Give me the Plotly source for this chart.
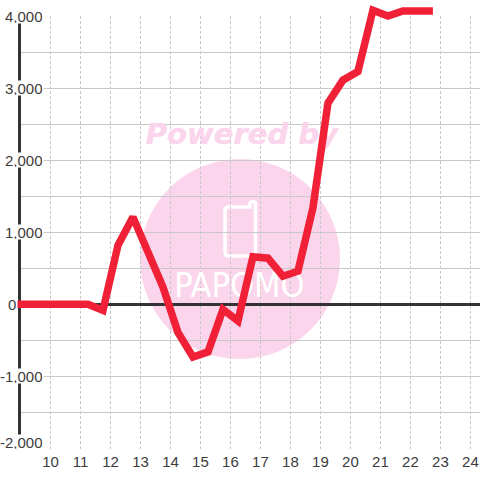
import plotly.graph_objects as go

hours = [8.9, 9.25, 9.75, 10.25, 10.75, 11.25, 11.75, 12.25, 12.75, 13.25, 13.75, 14.25, 14.75, 15.25, 15.75,
         16.25, 16.75, 17.25, 17.75, 18.25, 18.75, 19.25, 19.75, 20.25, 20.75, 21.25, 21.75, 22.25, 22.75]
values = [0, 0, 0, 0, 0, 0, -85, 820, 1210, 740, 240, -390, -730, -660, -70,
          -230, 660, 640, 390, 460, 1340, 2790, 3110, 3230, 4080, 4000, 4070, 4070, 4070]
y_ticks = [4000, 3000, 2000, 1000, 0, -1000, -2000]
y_labels = ["4,000", "3,000", "2,000", "1,000", "0", "-1,000", "-2,000"]
x_ticks = list(range(10, 25))
TEXT = "#3c3c3c"; GRID = "#c8c8c8"; AXIS = "#333333"; RED = "#f02037"; PINK = "#fbd5ec"
W = 480.0
L, R, T, B = 20.5, 480, 16, 448.5
X0, X1, Y0, Y1 = 9, 24.32, -2000, 4000
FONT = "Liberation Sans"
px = lambda v: v / W
py = lambda v: 1 - v / W
sx = (R - L) / (X1 - X0)
sy = (B - T) / (Y1 - Y0)

fig = go.Figure()
fig.add_trace(go.Scatter(x=[16.38], y=[2320], mode="text", text=["Powered by"], cliponaxis=False,
                         textfont=dict(family="DejaVu Sans", size=29, color=PINK, weight="bold", style="italic",
                                       shadow="0 0 1px #fbd5ec"),
                         textposition="middle center", hoverinfo="skip"))
fig.add_trace(go.Scatter(x=[16.3], y=[213], mode="text", text=["PAPOMO"], cliponaxis=False,
                         textfont=dict(family="DejaVu Sans Condensed", size=34, color="white"),
                         textposition="middle center", hoverinfo="skip"))
fig.add_trace(go.Scatter(x=hours, y=values, mode="lines", xaxis="x2", yaxis="y2",
                         line=dict(color=RED, width=7.5, shape="linear"), hoverinfo="skip"))

fig.add_shape(type="circle", xref="paper", yref="paper", layer="below", fillcolor=PINK, line_width=0,
              x0=px(140), x1=px(340), y0=py(359), y1=py(159))
P = lambda x, y: f"{px(x)} {py(y)}"
phone = (f"M {P(225, 211)} Q {P(225, 207)} {P(229, 207)} L {P(250, 207)} L {P(250, 203)} "
         f"Q {P(253, 200)} {P(255.5, 203)} L {P(255.5, 256)} L {P(229, 256)} Q {P(225, 256)} {P(225, 252)} Z")
fig.add_shape(type="path", xref="paper", yref="paper", layer="below", line=dict(color="white", width=3.5),
              path=phone)

for v, lab in zip(y_ticks, y_labels):
    fig.add_annotation(x=px(16.5 if v == 0 else 43.5), xref="paper", xanchor="right", y=v, yref="y", text=lab,
                       showarrow=False, font=dict(family=FONT, size=15, color=TEXT), bgcolor="white", height=14,
                       borderpad=0, yshift=7 if v == -2000 else 0)

fig.update_layout(
    width=480, height=480, margin=dict(l=0, r=0, t=0, b=0, pad=0), autosize=False,
    paper_bgcolor="white", plot_bgcolor="rgba(0,0,0,0)", showlegend=False,
    xaxis=dict(domain=[px(L), px(R)], range=[X0, X1], tickvals=x_ticks, ticktext=[str(t) for t in x_ticks],
               ticks="", showline=False, showgrid=True, gridcolor=GRID, gridwidth=1, griddash="3px,2px",
               zeroline=False, tickfont=dict(family=FONT, size=15, color=TEXT), ticklabelstandoff=2, anchor="y"),
    yaxis=dict(domain=[py(B), py(T)], range=[Y0, Y1], dtick=500, tick0=0, showticklabels=False, ticks="",
               showgrid=True, gridcolor=GRID, gridwidth=1, zeroline=True, zerolinecolor=AXIS, zerolinewidth=3,
               showline=True, linecolor=AXIS, linewidth=3, anchor="x"),
    xaxis2=dict(domain=[0, 1], range=[X0 - L / sx, X1 + (W - R) / sx], visible=False, anchor="y2"),
    yaxis2=dict(domain=[0, 1], range=[Y0 - (W - B) / sy, Y1 + T / sy], visible=False, anchor="x2"),
)
fig.write_html("out.html", config=dict(displayModeBar=False),
               post_script="document.body.style.margin='0';document.documentElement.style.overflow='hidden';")
